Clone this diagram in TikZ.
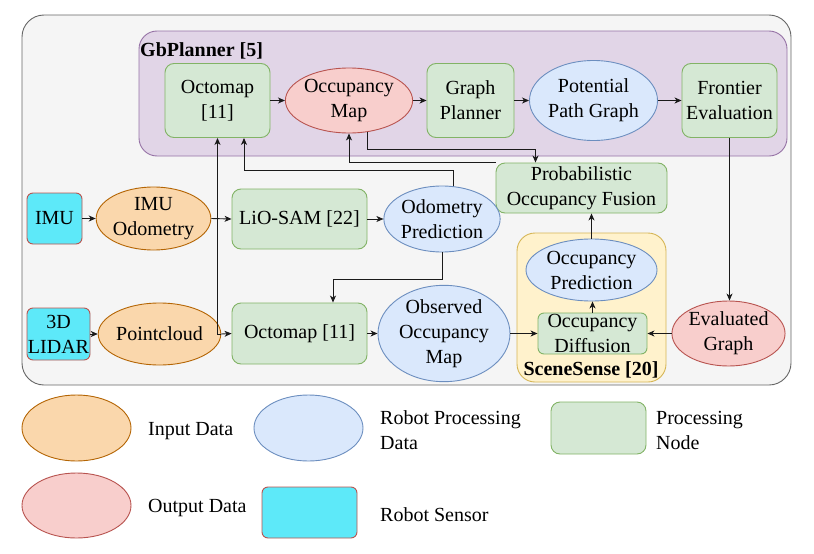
\documentclass[tikz,border=0pt]{standalone}
\usepackage{fontspec}
\setmainfont{Liberation Serif}
\usetikzlibrary{shapes.geometric,arrows.meta,calc}
\definecolor{outF}{HTML}{F5F5F5}
\definecolor{outS}{HTML}{666666}
\definecolor{puF}{HTML}{E1D5E7}
\definecolor{puS}{HTML}{9673A6}
\definecolor{grF}{HTML}{D5E8D4}
\definecolor{grS}{HTML}{82B366}
\definecolor{reF}{HTML}{F8CECC}
\definecolor{reS}{HTML}{B85450}
\definecolor{blF}{HTML}{DAE8FC}
\definecolor{blS}{HTML}{6C8EBF}
\definecolor{orF}{HTML}{FAD7AC}
\definecolor{orS}{HTML}{B46504}
\definecolor{yeF}{HTML}{FFF2CC}
\definecolor{yeS}{HTML}{D6B656}
\definecolor{cyF}{HTML}{5DE9F9}
\definecolor{lnC}{HTML}{1A1A1A}
\begin{document}
\begin{tikzpicture}[x=1pt,y=-1pt,
  font=\fontsize{20}{25}\selectfont,
  every node/.style={inner sep=0pt, align=center},
  procbox/.style={rectangle, rounded corners=9pt, draw=grS, fill=grF, line width=0.9pt},
  sensorbox/.style={rectangle, rounded corners=6pt, draw=reS, fill=cyF, line width=0.9pt},
  inell/.style={ellipse, draw=orS, fill=orF, line width=0.9pt},
  outell/.style={ellipse, draw=reS, fill=reF, line width=0.9pt},
  robell/.style={ellipse, draw=blS, fill=blF, line width=0.9pt},
  groupbox/.style={line width=0.9pt},
  arr/.style={-{Stealth[length=7pt,width=6pt,inset=2pt]}, line width=0.9pt, draw=lnC},
  legtext/.style={anchor=west, align=left}
]
\useasboundingbox (0,0) rectangle (814,554);
% containers
\draw[groupbox, draw=outS, fill=outF, rounded corners=22pt] (22,15) rectangle (791,385);
\draw[groupbox, draw=puS, fill=puF, rounded corners=18pt] (139,31) rectangle (787,156);
\draw[groupbox, draw=yeS, fill=yeF, rounded corners=18pt] (517,233) rectangle (666,382);
\node[anchor=west, font=\fontsize{20}{25}\selectfont\bfseries] (gbl) at (140,50.5) {GbPlanner [5]};
\node[font=\fontsize{20}{25}\selectfont\bfseries] (ssl) at (591,370) {SceneSense [20]};
% top row
\node[procbox, minimum width=105, minimum height=74] (octoT) at (217.5,100.5) {Octomap\\{[11]}};
\node[outell, minimum width=109, minimum height=65] (occmap) at (349,100.5) {Occupancy\\Map};
\node[procbox, minimum width=87, minimum height=74] (graphpl) at (470.5,100.5) {Graph\\Planner};
\node[robell, minimum width=107, minimum height=80] (ppg) at (593.5,100.5) {Potential\\Path Graph};
\node[procbox, minimum width=95, minimum height=74] (frontier) at (729.5,100.5) {Frontier\\Evaluation};
% middle
\node[procbox, minimum width=171, minimum height=50] (fusion) at (581.5,188) {Probabilistic\\Occupancy Fusion};
\node[sensorbox, minimum width=55, minimum height=51] (imu) at (54.5,218.5) {IMU};
\node[inell, minimum width=107, minimum height=63] (imuodo) at (153.5,218.5) {IMU\\Odometry};
\node[procbox, minimum width=135, minimum height=60] (lio) at (299.5,219) {LiO-SAM [22]};
\node[robell, minimum width=110, minimum height=66] (odopred) at (442,219) {Odometry\\Prediction};
\node[robell, minimum width=131, minimum height=62] (occpred) at (591.5,270) {Occupancy\\Prediction};
% bottom
\node[sensorbox, minimum width=63, minimum height=52] (lidar) at (58.5,334) {3D\\LIDAR};
\node[inell, minimum width=93, minimum height=62] (pc) at (159.5,334) {Pointcloud};
\node[procbox, minimum width=135, minimum height=61] (octoB) at (299.5,333.5) {Octomap [11]};
\node[robell, minimum width=132, minimum height=79] (obs) at (444,333.5) {Observed\\Occupancy\\Map};
\node[procbox, rounded corners=6pt, minimum width=109, minimum height=41] (occdiff) at (592.5,333.5) {Occupancy\\Diffusion};
\node[outell, minimum width=109, minimum height=65] (evalg) at (728.5,333.5) {Evaluated\\Graph};
% connectors
\draw[arr] (octoT.east) -- (occmap.west);
\draw[arr] (occmap.east) -- (graphpl.west);
\draw[arr] (graphpl.east) -- (ppg.west);
\draw[arr] (ppg.east) -- (frontier.west);
\draw[arr] (frontier.south) -- (frontier.south |- evalg.north);
\draw[arr] (evalg.west) -- (occdiff.east);
\draw[arr] (obs.east) -- (occdiff.west);
\draw[arr] (occdiff.north) -- (occdiff.north |- occpred.south);
\draw[arr] (occpred.north) -- (occpred.north |- fusion.south);
\draw[arr] (fusion.north west) -| (occmap.south);
\draw[arr] (occmap.-60) -- ++(0,17) -| ([xshift=-46pt]fusion.north);
\draw[arr] (imu.east) -- (imuodo.west);
\draw[arr] (imuodo.east) -- (lio.west);
\draw[arr] (lio.east) -- (odopred.west);
\draw[arr] (odopred.70) -- ++(0,-16) -| ([xshift=26.5pt]octoT.south);
\draw[arr] (odopred.south) -- ++(0,27) -| ([xshift=33.5pt]octoB.north);
\draw[arr] (lidar.east) -- (pc.west);
\draw[arr] (pc.east) -- (octoB.west);
\draw[arr] (pc.east) -| (octoT.south);
\draw[arr] (octoB.east) -- (obs.west);
% legend
\node[inell, minimum width=109, minimum height=66] (lin) at (76.5,428) {};
\node[legtext] (tin) at (148,431) {Input Data};
\node[robell, minimum width=109, minimum height=66] (lrob) at (308.5,428) {};
\node[legtext] (trob) at (380,430) {Robot Processing\\Data};
\node[procbox, minimum width=95, minimum height=52] (lproc) at (598.5,428) {};
\node[legtext] (tproc) at (656,430.5) {Processing\\Node};
\node[outell, minimum width=109, minimum height=65] (lout) at (76.5,505.5) {};
\node[legtext] (tout) at (148,508) {Output Data};
\node[sensorbox, minimum width=95, minimum height=51] (lsen) at (309.5,512.5) {};
\node[legtext] (tsen) at (380,515) {Robot Sensor};
\end{tikzpicture}
\end{document}
